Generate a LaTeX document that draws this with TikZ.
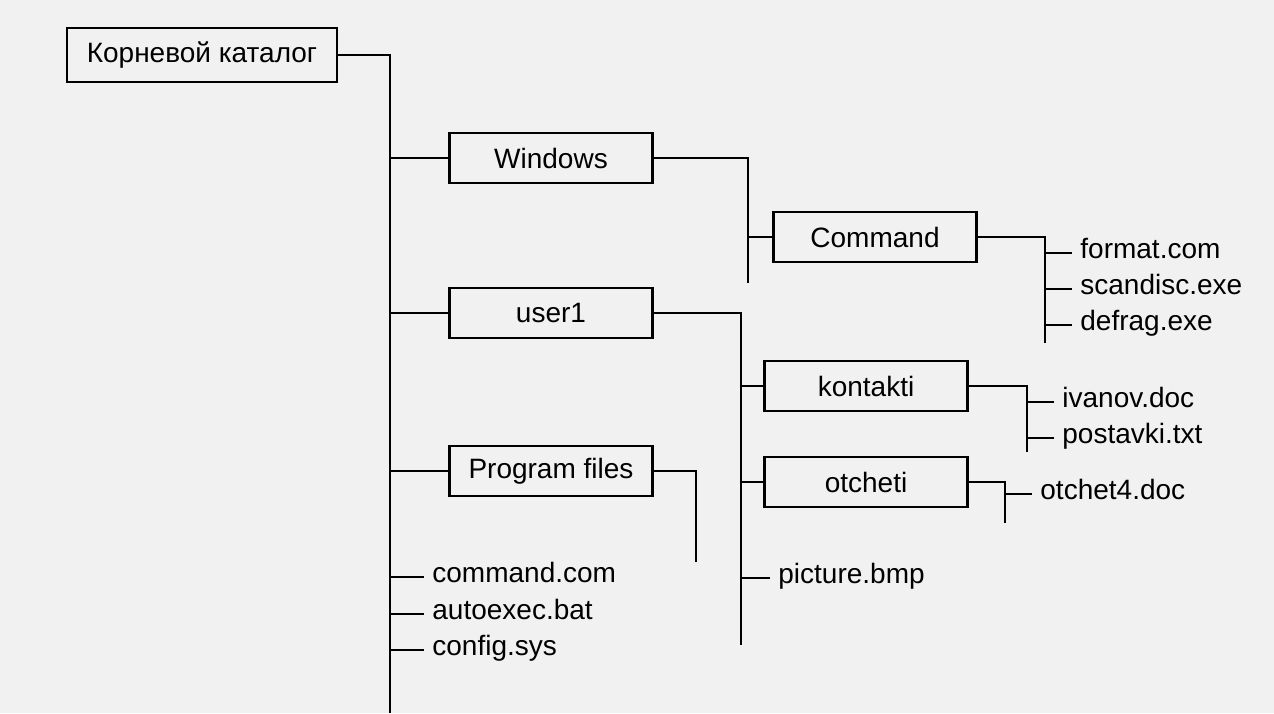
\documentclass[tikz,border=0pt]{standalone}
\usepackage{fontspec}
\setmainfont{Liberation Sans}
\usetikzlibrary{positioning}

\begin{document}
\begin{tikzpicture}[
  x=0.5pt, y=-0.5pt,
  line width=1.4pt,
  every node/.style={font=\fontsize{14pt}{17pt}\selectfont},
  folder/.style = {draw,line width=1.4pt,minimum width=101.5pt,minimum height=25pt,inner sep=0pt},
  file/.style = {anchor=mid west,inner xsep=3.5pt,inner ysep=0pt}
  ]
	\fill[gray!11] (0,0) rectangle (1274,713);
	\useasboundingbox (0,0) rectangle (1274,713);

	\node[folder,minimum width=135pt,minimum height=27pt] (root) at (202,55) {Корневой каталог};
	\node[folder] (windows) at (551,158) {Windows};
	\node[folder] (user) at (551,313) {user1};
	\node[folder] (progfiles) at (551,471) {Program files};
	\node[folder] (command) at (875,237) {Command};
	\node[folder] (kontakti) at (866,386) {kontakti};
	\node[folder] (otcheti) at (866,482) {otcheti};

	\node[file] (commandcom) at (424,577) {command.com};
	\node[file] (autoexec) at (424,614) {autoexec.bat};
	\node[file] (config) at (424,650) {config.sys};
	\node[file] (format) at (1072,253) {format.com};
	\node[file] (scandisc) at (1072,289) {scandisc.exe};
	\node[file] (defrag) at (1072,325) {defrag.exe};
	\node[file] (ivanov) at (1054,402) {ivanov.doc};
	\node[file] (postavki) at (1054,438) {postavki.txt};
	\node[file] (otchet) at (1032,494) {otchet4.doc};
	\node[file] (picture) at (770,578) {picture.bmp};

	\coordinate (trunk) at (390,713);
	\coordinate (winbus) at (748,283);
	\coordinate (cmdbus) at (1045,343);
	\coordinate (userbus) at (741,645);
	\coordinate (kontbus) at (1027,452);
	\coordinate (otchbus) at (1005,523);
	\coordinate (progbus) at (696,562);

	\draw (root.east) -| (trunk);
	\foreach \n in {windows,user,progfiles}
	  \draw (\n.west) -- (\n.west -| trunk);
	\foreach \n in {commandcom,autoexec,config}
	  \draw (\n.mid west) -- (\n.mid west -| trunk);

	\draw (windows.east) -| (winbus);
	\draw (command.west) -- (command.west -| winbus);

	\draw (command.east) -| (cmdbus);
	\foreach \n in {format,scandisc,defrag}
	  \draw (\n.mid west) -- (\n.mid west -| cmdbus);

	\draw (user.east) -| (userbus);
	\draw (kontakti.west) -- (kontakti.west -| userbus);
	\draw (otcheti.west) -- (otcheti.west -| userbus);
	\draw (picture.mid west) -- (picture.mid west -| userbus);

	\draw (kontakti.east) -| (kontbus);
	\foreach \n in {ivanov,postavki}
	  \draw (\n.mid west) -- (\n.mid west -| kontbus);

	\draw (otcheti.east) -| (otchbus);
	\draw (otchet.mid west) -- (otchet.mid west -| otchbus);

	\draw (progfiles.east) -| (progbus);

\end{tikzpicture}
\end{document}
